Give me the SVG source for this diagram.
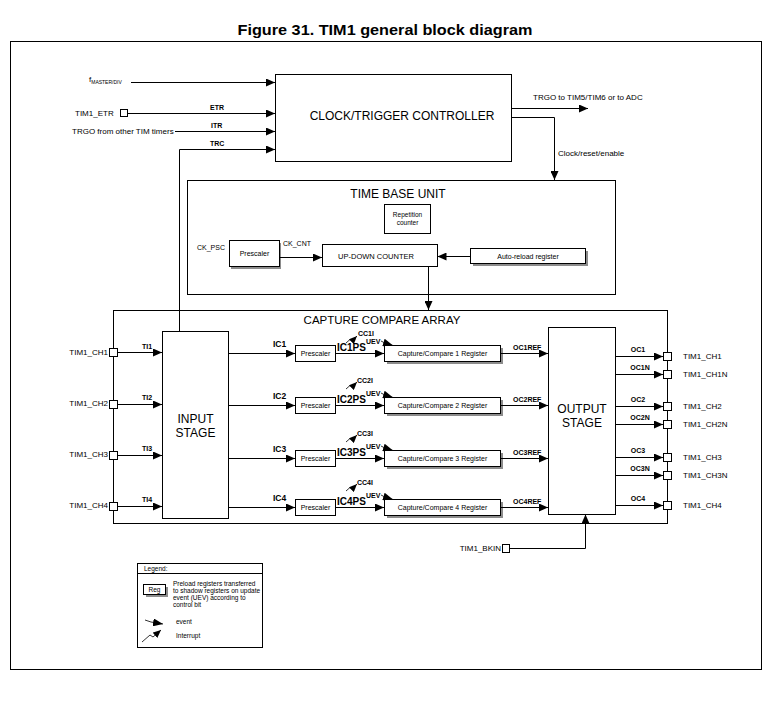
<svg xmlns="http://www.w3.org/2000/svg" width="772" height="713" viewBox="0 0 772 713">
<defs>
<marker id="a" markerUnits="userSpaceOnUse" markerWidth="9" markerHeight="8" refX="9" refY="4" orient="auto"><path d="M0,0 L9,4 L0,8 z" fill="#000"/></marker>
<marker id="s" markerUnits="userSpaceOnUse" markerWidth="8" markerHeight="7" refX="8" refY="3.5" orient="auto"><path d="M0,0 L8,3.5 L0,7 z" fill="#000"/></marker>
<marker id="ev" markerUnits="userSpaceOnUse" markerWidth="10" markerHeight="8" refX="10" refY="4" orient="auto"><path d="M0,0 L10,4 L0,8 z" fill="#000"/></marker>
</defs>
<style>
text{font-family:"Liberation Sans",Arial,sans-serif;fill:#000}
.box{fill:#fff;stroke:#000;stroke-width:1}
.sh{fill:#8c8c8c}
.ln{fill:none;stroke:#000;stroke-width:1}
.ar{fill:none;stroke:#000;stroke-width:1;marker-end:url(#a)}
.sa{fill:none;stroke:#000;stroke-width:0.8;marker-end:url(#s)}
.ev{fill:none;stroke:#000;stroke-width:0.8;marker-end:url(#ev)}
.pin{fill:#fff;stroke:#000;stroke-width:1}
.big{font-size:12px}
.lbl{font-size:8px}
.sm{font-size:7px}
.b{font-weight:bold}
.m{text-anchor:middle}
.e{text-anchor:end}
</style>
<rect x="0" y="0" width="772" height="713" fill="#fff"/>
<text x="385" y="35" class="m b" font-size="15.5" textLength="295" lengthAdjust="spacingAndGlyphs">Figure 31. TIM1 general block diagram</text>
<rect id="frame" x="10.5" y="41.5" width="751" height="628" class="box"/>

<g id="clock-trigger-controller">
<rect x="275.5" y="74.5" width="236" height="87" class="box"/>
<text x="402" y="120" class="big m">CLOCK/TRIGGER CONTROLLER</text>
</g>

<g id="inputs">
<text x="89" y="82" font-size="8">f<tspan font-size="5" dy="2">MASTER/DIV</tspan></text>
<text x="75" y="116" class="lbl">TIM1_ETR</text>
<rect x="120.5" y="109.5" width="7" height="7" class="pin"/>
<text x="72" y="134" class="lbl">TRGO from other TIM timers</text>
<text x="210" y="110" class="sm b">ETR</text>
<text x="211" y="128" class="sm b">ITR</text>
<text x="210" y="146" class="sm b">TRC</text>
<text x="533" y="100" class="lbl">TRGO to TIM5/TIM6 or to ADC</text>
<text x="558" y="156" class="lbl">Clock/reset/enable</text>
</g>

<g id="time-base-unit">
<rect x="187.5" y="180.5" width="428" height="114" class="box"/>
<text x="398" y="198" class="big m">TIME BASE UNIT</text>
<rect x="384.5" y="204.5" width="46" height="29" class="box"/>
<text x="407.5" y="217" class="m" font-size="6.5">Repetition</text>
<text x="407.5" y="225" class="m" font-size="6.5">counter</text>
<rect x="231" y="243" width="50" height="26" class="sh"/>
<rect x="229.5" y="240.5" width="50" height="26" class="box"/>
<text x="254.5" y="256" class="sm m">Prescaler</text>
<text x="197" y="250" class="sm">CK_PSC</text>
<text x="283" y="246" class="sm">CK_CNT</text>
<rect x="322.5" y="244.5" width="115" height="22" class="box"/>
<text x="376" y="258.5" class="m" font-size="7.5">UP-DOWN COUNTER</text>
<rect x="473" y="251" width="115" height="15" class="sh"/>
<rect x="470.5" y="248.5" width="115" height="15" class="box"/>
<text x="528" y="258.5" class="sm m">Auto-reload register</text>
</g>

<g id="capture-compare-array">
<rect x="113.5" y="310.5" width="554" height="213" class="box"/>
<text x="382" y="324" class="m" font-size="11.5">CAPTURE COMPARE ARRAY</text>
</g>

<g id="input-stage">
<rect x="162.5" y="331.5" width="66" height="187" class="box"/>
<text x="195.5" y="423" class="big m">INPUT</text>
<text x="195.5" y="437" class="big m">STAGE</text>
</g>

<g id="output-stage">
<rect x="548.5" y="327.5" width="67" height="187" class="box"/>
<text x="582" y="413" class="big m">OUTPUT</text>
<text x="582" y="427" class="big m">STAGE</text>
</g>

<g id="channel-1">
<text x="108" y="355" class="lbl e">TIM1_CH1</text>
<text x="142" y="349" class="sm b">TI1</text>
<text x="273" y="347" class="b" font-size="8.5">IC1</text>
<rect x="295.5" y="345.5" width="40" height="16" class="box"/>
<text x="315.5" y="356" class="sm m">Prescaler</text>
<text x="337" y="351" class="b" font-size="10">IC1PS</text>
<text x="358" y="336" class="sm b">CC1I</text>
<text x="366" y="344" class="sm b">UEV</text>
<rect x="387" y="348" width="116" height="16" class="sh"/>
<rect x="384.5" y="345.5" width="116" height="16" class="box"/>
<text x="442.5" y="356" class="sm m">Capture/Compare 1 Register</text>
<text x="513" y="350" class="sm b">OC1REF</text>
</g>
<g id="channel-2">
<text x="108" y="406" class="lbl e">TIM1_CH2</text>
<text x="142" y="400" class="sm b">TI2</text>
<text x="273" y="399" class="b" font-size="8.5">IC2</text>
<rect x="295.5" y="397.5" width="40" height="16" class="box"/>
<text x="315.5" y="408" class="sm m">Prescaler</text>
<text x="337" y="403" class="b" font-size="10">IC2PS</text>
<text x="357" y="383" class="sm b">CC2I</text>
<text x="366" y="396" class="sm b">UEV</text>
<rect x="387" y="400" width="116" height="16" class="sh"/>
<rect x="384.5" y="397.5" width="116" height="16" class="box"/>
<text x="442.5" y="408" class="sm m">Capture/Compare 2 Register</text>
<text x="513" y="402" class="sm b">OC2REF</text>
</g>
<g id="channel-3">
<text x="108" y="457" class="lbl e">TIM1_CH3</text>
<text x="142" y="451" class="sm b">TI3</text>
<text x="273" y="452" class="b" font-size="8.5">IC3</text>
<rect x="295.5" y="450.5" width="40" height="16" class="box"/>
<text x="315.5" y="461" class="sm m">Prescaler</text>
<text x="337" y="456" class="b" font-size="10">IC3PS</text>
<text x="357" y="436" class="sm b">CC3I</text>
<text x="366" y="449" class="sm b">UEV</text>
<rect x="387" y="453" width="116" height="16" class="sh"/>
<rect x="384.5" y="450.5" width="116" height="16" class="box"/>
<text x="442.5" y="461" class="sm m">Capture/Compare 3 Register</text>
<text x="513" y="455" class="sm b">OC3REF</text>
</g>
<g id="channel-4">
<text x="108" y="508" class="lbl e">TIM1_CH4</text>
<text x="142" y="502" class="sm b">TI4</text>
<text x="273" y="501" class="b" font-size="8.5">IC4</text>
<rect x="295.5" y="499.5" width="40" height="16" class="box"/>
<text x="315.5" y="510" class="sm m">Prescaler</text>
<text x="337" y="505" class="b" font-size="10">IC4PS</text>
<text x="357" y="485" class="sm b">CC4I</text>
<text x="366" y="498" class="sm b">UEV</text>
<rect x="387" y="502" width="116" height="16" class="sh"/>
<rect x="384.5" y="499.5" width="116" height="16" class="box"/>
<text x="442.5" y="510" class="sm m">Capture/Compare 4 Register</text>
<text x="513" y="504" class="sm b">OC4REF</text>
</g>

<g id="outputs">
<text x="638" y="352" class="sm b m">OC1</text>
<text x="640" y="370" class="sm b m">OC1N</text>
<text x="638" y="402" class="sm b m">OC2</text>
<text x="640" y="420" class="sm b m">OC2N</text>
<text x="638" y="453" class="sm b m">OC3</text>
<text x="640" y="471" class="sm b m">OC3N</text>
<text x="638" y="501" class="sm b m">OC4</text>
<text x="683" y="359" class="lbl">TIM1_CH1</text>
<text x="683" y="377" class="lbl">TIM1_CH1N</text>
<text x="683" y="409" class="lbl">TIM1_CH2</text>
<text x="683" y="427" class="lbl">TIM1_CH2N</text>
<text x="683" y="460" class="lbl">TIM1_CH3</text>
<text x="683" y="478" class="lbl">TIM1_CH3N</text>
<text x="683" y="508" class="lbl">TIM1_CH4</text>
<text x="501" y="551" class="lbl e">TIM1_BKIN</text>
</g>

<g id="connectors">
<path class="ar" d="M131,82.5 H275"/>
<path class="ar" d="M127.5,113.5 H275"/>
<path class="ar" d="M175,131.5 H275"/>
<path class="ar" d="M179.5,331 V149.5 H275"/>
<path class="ar" d="M511.5,108.5 H588"/>
<path class="ar" d="M511.5,117.5 H554.5 V180"/>
<path class="ar" d="M279.5,257.5 H322"/>
<path class="ar" d="M470,256.5 H437.5"/>
<path class="ar" d="M428.5,266.5 V310"/>
<path class="ar" d="M117.5,352.5 H162"/>
<path class="ar" d="M117.5,404.5 H162"/>
<path class="ar" d="M117.5,455.5 H162"/>
<path class="ar" d="M117.5,506.5 H162"/>
<path class="ar" d="M228.5,353.5 H295"/>
<path class="ar" d="M228.5,405.5 H295"/>
<path class="ar" d="M228.5,458.5 H295"/>
<path class="ar" d="M228.5,507.5 H295"/>
<path class="ar" d="M335.5,353.5 H384"/>
<path class="ar" d="M335.5,405.5 H384"/>
<path class="ar" d="M335.5,458.5 H384"/>
<path class="ar" d="M335.5,507.5 H384"/>
<path class="ar" d="M500.5,353.5 H548"/>
<path class="ar" d="M500.5,405.5 H548"/>
<path class="ar" d="M500.5,458.5 H548"/>
<path class="ar" d="M500.5,507.5 H548"/>
<path class="ar" d="M615.5,356.5 H663"/>
<path class="ar" d="M615.5,374.5 H663"/>
<path class="ar" d="M615.5,406.5 H663"/>
<path class="ar" d="M615.5,424.5 H663"/>
<path class="ar" d="M615.5,457.5 H663"/>
<path class="ar" d="M615.5,475.5 H663"/>
<path class="ar" d="M615.5,505.5 H663"/>
<path class="ar" d="M509.5,548.5 H585.5 V514.5"/>
<path class="sa" d="M346,343 L350,339.5 L352,341 L357,336"/>
<path class="sa" d="M346,389 L350,385.5 L352,387 L357,382"/>
<path class="sa" d="M346,442 L350,438.5 L352,440 L357,435"/>
<path class="sa" d="M346,491 L350,487.5 L352,489 L357,484"/>
<path class="ev" d="M381,341 L385,343 L393,345.5"/>
<path class="ev" d="M381,393 L385,395 L393,397.5"/>
<path class="ev" d="M381,446 L385,448 L393,450.5"/>
<path class="ev" d="M381,495 L385,497 L393,499.5"/>
</g>

<g id="pins">
<rect x="109.5" y="348.5" width="8" height="8" class="pin"/>
<rect x="109.5" y="400.5" width="8" height="8" class="pin"/>
<rect x="109.5" y="451.5" width="8" height="8" class="pin"/>
<rect x="109.5" y="502.5" width="8" height="8" class="pin"/>
<rect x="663.5" y="352.5" width="8" height="8" class="pin"/>
<rect x="663.5" y="370.5" width="8" height="8" class="pin"/>
<rect x="663.5" y="402.5" width="8" height="8" class="pin"/>
<rect x="663.5" y="420.5" width="8" height="8" class="pin"/>
<rect x="663.5" y="453.5" width="8" height="8" class="pin"/>
<rect x="663.5" y="471.5" width="8" height="8" class="pin"/>
<rect x="663.5" y="501.5" width="8" height="8" class="pin"/>
<rect x="502.5" y="544.5" width="7" height="8" class="pin"/>
</g>

<g id="legend">
<rect x="137.5" y="563.5" width="125" height="84" class="box"/>
<path class="ln" d="M137.5,573.5 H262.5"/>
<text x="144" y="571" font-size="6.5">Legend:</text>
<rect x="146" y="587" width="22" height="10" class="sh"/>
<rect x="143.5" y="584.5" width="22" height="10" class="box"/>
<text x="154.5" y="592" class="m" font-size="6.5">Reg</text>
<text x="173" y="586" font-size="6.5">Preload registers transferred</text>
<text x="173" y="593" font-size="6.5">to shadow registers on update</text>
<text x="173" y="600" font-size="6.5">event (UEV) according to</text>
<text x="173" y="607" font-size="6.5">control bit</text>
<path class="ev" d="M145,620 L151,622 L163,624"/>
<text x="176" y="624" font-size="6.5">event</text>
<path class="sa" d="M142,642 L150,635 L153,637 L161,630"/>
<text x="176" y="638" font-size="6.5">Interrupt</text>
</g>
</svg>
